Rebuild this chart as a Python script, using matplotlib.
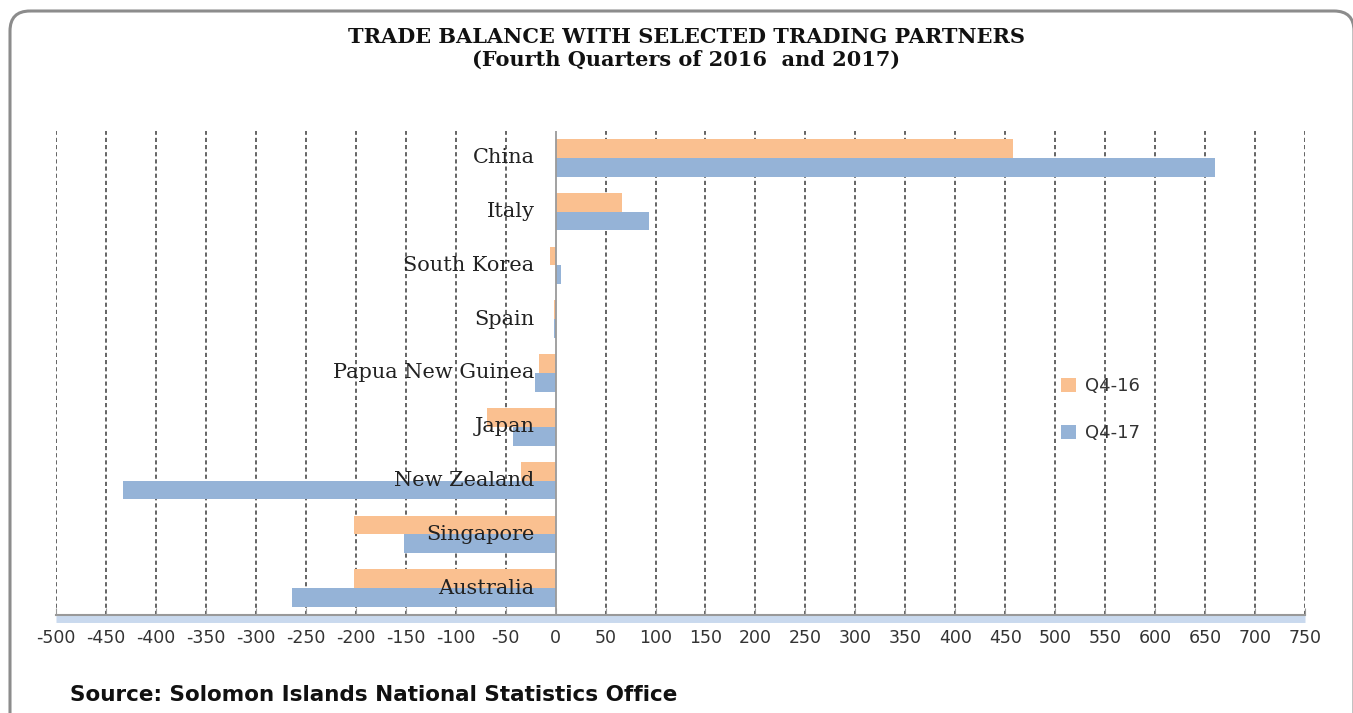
import matplotlib
matplotlib.use("Agg")
import matplotlib.pyplot as plt
import numpy as np
from matplotlib.patches import FancyBboxPatch

countries = ["China", "Italy", "South Korea", "Spain", "Papua New Guinea",
             "Japan", "New Zealand", "Singapore", "Australia"]
q4_16 = [458, 66, -6, -2, -17, -69, -35, -202, -202]
q4_17 = [660, 93, 5, -2, -21, -43, -433, -152, -264]
series_names = ["Q4-16", "Q4-17"]
xticks = list(range(-500, 751, 50))

c16 = "#FAC090"
c17 = "#95B3D7"

W, H = 1353, 713
fig = plt.figure(figsize=(W / 100, H / 100), dpi=100)
fig.patch.set_facecolor("white")

# background overlay axes in pixel units for the rounded frame
bg = fig.add_axes([0, 0, 1, 1], zorder=-1)
bg.set_xlim(0, W)
bg.set_ylim(H, 0)
bg.axis("off")
frame = FancyBboxPatch((10, 11), 1344, 740,
                       boxstyle="round,pad=0,rounding_size=20",
                       fill=False, edgecolor="#8c8c8c", linewidth=2.2)
bg.add_patch(frame)

ax = fig.add_axes([56 / W, 98 / H, (1305 - 56) / W, (582 - 98) / H])
ax.patch.set_alpha(0)
y = np.arange(len(countries))
h = 0.35
ax.barh(y - h / 2, q4_16, height=h, color=c16, label=series_names[0], zorder=3)
ax.barh(y + h / 2, q4_17, height=h, color=c17, label=series_names[1], zorder=3)

ax.set_xlim(-500, 750)
ax.set_ylim(len(countries) - 0.5, -0.5)
ax.set_xticks(xticks)
ax.set_xticklabels([str(v) for v in xticks], fontsize=12.5, color="#333333",
                   family="DejaVu Sans")
ax.set_yticks([])
ax.tick_params(axis="x", direction="in", length=5, color="#999999", pad=10)

for v in xticks:
    if v != 0:
        ax.axvline(v, color="#4a4a4a", lw=1.2, ls=(0, (2.5, 1.8)), zorder=1)
ax.axvline(0, color="#9a9a9a", lw=1.3, zorder=4)

for s in ["top", "right", "left"]:
    ax.spines[s].set_visible(False)
ax.spines["bottom"].set_color("#999999")
ax.spines["bottom"].set_linewidth(1.5)
ax.spines["bottom"].set_zorder(5)
# soft blue shadow under axis
ax.plot([0, 1], [-0.009, -0.009], transform=ax.transAxes, color="#c9d9ee",
        lw=5, clip_on=False, solid_capstyle="butt", zorder=2)

for i, name in enumerate(countries):
    ax.annotate(name, xy=(0, i), xytext=(-21, 0), textcoords="offset pixels",
                ha="right", va="center", fontsize=15, family="DejaVu Serif",
                color="#222222", zorder=6)

leg = ax.legend(loc="upper left", bbox_to_anchor=(989 / 1249, 0.525),
                frameon=False, labelspacing=1.6,
                handlelength=0.8, handleheight=0.8, handletextpad=0.5,
                prop={"family": "DejaVu Sans", "size": 13})
for t in leg.get_texts():
    t.set_color("#333333")

fig.text(686 / W, 1 - 37 / H, "TRADE BALANCE WITH SELECTED TRADING PARTNERS",
         ha="center", va="center", fontsize=15, fontweight="bold",
         family="DejaVu Serif", color="#111111")
fig.text(686 / W, 1 - 60 / H, "(Fourth Quarters of 2016  and 2017)",
         ha="center", va="center", fontsize=15, fontweight="bold",
         family="DejaVu Serif", color="#111111")
fig.text(70 / W, 1 - 695 / H, "Source: Solomon Islands National Statistics Office",
         ha="left", va="center", fontsize=15.5, fontweight="bold",
         family="DejaVu Sans", color="#111111")

fig.savefig("out.png", dpi=100, facecolor="white")
